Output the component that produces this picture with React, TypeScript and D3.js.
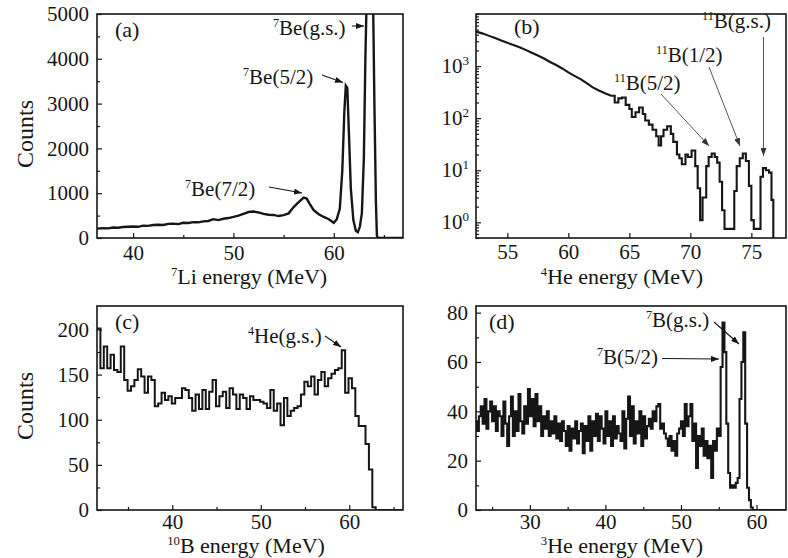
import React, { useEffect, useRef } from "react";
import * as d3 from "d3";

// ---------- Panel (a): 7Li spectrum (line) ----------
const aEnergy = [36.4, 37, 37.5, 38, 38.5, 39, 39.5, 40, 40.5, 41, 41.5, 42, 42.5, 43, 43.5, 44, 44.5, 45, 45.5, 46, 46.5, 47, 47.5, 48, 48.5, 49, 49.5, 50, 50.5, 51, 51.5, 52, 52.5, 53, 53.5, 54, 54.5, 55, 55.5, 56, 56.5, 57, 57.3, 57.6, 58, 58.5, 59, 59.5, 60, 60.3, 60.6, 60.85, 61.05, 61.2, 61.35, 61.5, 61.7, 61.95, 62.2, 62.4, 62.6, 62.8, 63.0, 63.15, 63.3, 63.9, 64.05, 64.2, 64.3, 64.4, 66.9];
const aCounts = [210, 220, 215, 235, 230, 245, 250, 255, 250, 275, 270, 290, 295, 290, 315, 320, 310, 340, 335, 355, 350, 370, 380, 420, 400, 430, 445, 470, 500, 540, 580, 590, 570, 540, 520, 515, 490, 510, 550, 690, 800, 900, 880, 760, 620, 530, 470, 420, 340, 420, 650, 1500, 2800, 3400, 3350, 2400, 1100, 400, 160, 130, 250, 550, 1800, 4000, 5600, 5600, 3000, 800, 50, 0, 0];
const aXTicks = [40, 50, 60];
const aXMinor = [45, 55, 65];
const aYTicks = [0, 1000, 2000, 3000, 4000, 5000];
const aYMinor = [500, 1500, 2500, 3500, 4500];

// ---------- Panel (b): 4He spectrum (log) ----------
const bEnergy = [52.43, 53, 53.5, 54, 54.5, 55, 55.5, 56, 56.5, 57, 57.5, 58, 58.5, 59, 59.5, 60, 60.5, 61, 61.5, 62, 62.5, 63, 63.5, 63.8, 64.1, 64.4, 64.7, 65.0, 65.2, 65.5, 65.8, 66.1, 66.3, 66.6, 66.9, 67.2, 67.4, 67.6, 67.8, 68.1, 68.4, 68.6, 68.9, 69.1, 69.3, 69.6, 69.8, 70.1, 70.4, 70.6, 70.8, 71.0, 71.3, 71.5, 71.75, 72.0, 72.2, 72.4, 72.6, 72.8, 73.6, 73.8, 74.05, 74.3, 74.55, 74.8, 75.0, 75.2, 75.75, 75.95, 76.2, 76.45, 76.65, 76.8];
const bCounts = [4600, 4200, 3800, 3450, 3100, 2800, 2550, 2300, 2050, 1800, 1600, 1400, 1200, 1050, 900, 760, 650, 560, 470, 390, 340, 300, 270, 200, 240, 250, 180, 150, 105, 130, 160, 120, 90, 75, 60, 45, 30, 45, 60, 70, 50, 35, 20, 17, 13, 20, 18, 24, 12, 4.5, 1.1, 3, 12, 18, 21, 18, 14, 6, 1.7, 0.75, 4, 12, 17, 21, 15, 5, 1.1, 0.75, 7.5, 11, 10, 9, 2.7, 0];
const bSmoothCount = 22; // first bins drawn as a continuous line
const bXTicks = [55, 60, 65, 70, 75];
const bYTicks = [1, 10, 100, 1000];
const bYExp = ["0", "1", "2", "3"];

// ---------- Panel (c): 10B spectrum (histogram) ----------
const cBinStart = 31.5;
const cBinWidth = 0.384;
const cCounts = [201, 157, 181, 157, 172, 155, 153, 181, 144, 132, 137, 144, 156, 148, 130, 148, 144, 115, 118, 130, 122, 126, 118, 124, 124, 135, 133, 124, 110, 128, 112, 133, 112, 131, 144, 115, 126, 131, 113, 135, 128, 112, 128, 124, 112, 126, 122, 122, 120, 118, 113, 133, 110, 118, 94, 124, 104, 110, 113, 115, 128, 142, 137, 148, 128, 144, 153, 137, 146, 151, 155, 157, 177, 130, 146, 135, 104, 93, 93, 73, 45, 3];
const cXTicks = [40, 50, 60];
const cXMinor = [35, 45, 55, 65];
const cYTicks = [0, 50, 100, 150, 200];
const cYMinor = [25, 75, 125, 175];

// ---------- Panel (d): 3He spectrum (histogram) ----------
const dBinStart = 22.75;
const dBinWidth = 0.25;
const dCounts = [36,
  32, 38, 42, 35, 45, 33, 40, 44, 36, 42, 32, 40, 38, 30, 44, 35,
  26, 38, 46, 30, 40, 32, 47, 36, 31, 42, 35, 49, 38, 45, 34, 47,
  36, 42, 30, 38, 33, 40, 30, 36, 31, 38, 29, 35, 28, 36, 32, 26,
  34, 24, 33, 29, 36, 27, 32, 35, 23, 34, 28, 38, 24, 36, 30, 39,
  28, 38, 33, 27, 40, 30, 36, 26, 38, 29, 34, 31, 28, 40, 25, 37,
  46, 30, 42, 27, 36, 31, 40, 26, 38, 29, 34, 37, 33, 40, 36, 42,
  43, 33, 35, 31, 29, 26, 30, 24, 28, 22, 31, 33, 36, 30, 43, 34,
  38, 43, 28, 35, 17, 30, 26, 33, 22, 28, 21, 26, 13, 28, 24, 33,
  30, 58, 76, 64, 35, 15, 9, 10, 9, 11, 13, 45, 60, 72, 35, 9, 4, 1];
const dXTicks = [30, 40, 50, 60];
const dXMinor = [25, 35, 45, 55];
const dYTicks = [0, 20, 40, 60, 80];
const dYMinor = [10, 30, 50, 70];

const W = 788;
const H = 558;
const FONT = "'Liberation Serif','Times New Roman',Times,serif";
const INK = "#161616";
const TICK_FS = 21;
const ANN_FS = 21;
const TITLE_FS = 22;

type Sel = d3.Selection<any, any, any, any>;

function supText(g: Sel, x: number, y: number, sup: string, main: string, size: number, anchor = "start") {
  const t = g.append("text").attr("x", x).attr("y", y).attr("font-family", FONT)
    .attr("font-size", size).attr("fill", INK).attr("text-anchor", anchor);
  if (sup) t.append("tspan").attr("font-size", size * 0.58).attr("dy", -size * 0.36).text(sup);
  t.append("tspan").attr("dy", sup ? size * 0.36 : 0).text(main);
  return t;
}

function arrow(g: Sel, x1: number, y1: number, x2: number, y2: number, gray = false) {
  g.append("line").attr("x1", x1).attr("y1", y1).attr("x2", x2).attr("y2", y2)
    .attr("stroke", gray ? "#555" : INK).attr("stroke-width", gray ? 1 : 1.1)
    .attr("marker-end", gray ? "url(#arrGray)" : "url(#arrInk)");
}

function styleAxis(ax: Sel) {
  ax.select(".domain").remove();
  ax.selectAll("line").attr("stroke", INK).attr("stroke-width", 1.2);
  ax.selectAll("text").attr("font-family", FONT).attr("font-size", TICK_FS).attr("fill", INK);
}

function xAxes(g: Sel, x: any, B: number, major: number[], minor: number[], pad: number) {
  styleAxis(g.append("g").attr("transform", `translate(0,${B})`)
    .call(d3.axisBottom(x).tickValues(major).tickSize(-5).tickPadding(pad).tickFormat(d3.format("d")) as any));
  if (minor.length)
    styleAxis(g.append("g").attr("transform", `translate(0,${B})`)
      .call(d3.axisBottom(x).tickValues(minor).tickSize(-3).tickFormat(() => "") as any));
}

function yAxes(g: Sel, y: any, L: number, major: number[], minor: number[], fmt: any) {
  styleAxis(g.append("g").attr("transform", `translate(${L},0)`)
    .call(d3.axisLeft(y).tickValues(major).tickSize(-5).tickPadding(8).tickFormat(fmt) as any));
  if (minor.length)
    styleAxis(g.append("g").attr("transform", `translate(${L},0)`)
      .call(d3.axisLeft(y).tickValues(minor).tickSize(-3).tickFormat(() => "") as any));
}

function frame(g: Sel, L: number, T: number, R: number, B: number) {
  g.append("rect").attr("x", L).attr("y", T).attr("width", R - L).attr("height", B - T)
    .attr("fill", "none").attr("stroke", INK).attr("stroke-width", 1.6);
}

function clip(svg: Sel, id: string, L: number, T: number, R: number, B: number) {
  svg.select("defs").append("clipPath").attr("id", id).append("rect")
    .attr("x", L).attr("y", T).attr("width", R - L).attr("height", B - T);
}

function histPoints(start: number, width: number, counts: number[], xMax: number): [number, number][] {
  const pts: [number, number][] = counts.map((c, i) => [start + i * width, c]);
  pts.push([start + counts.length * width, 0]);
  pts.push([xMax, 0]);
  return pts;
}

function draw(svg: Sel) {
  const defs = svg.append("defs");
  defs.append("marker").attr("id", "arrInk").attr("viewBox", "0 0 8 6").attr("refX", 8).attr("refY", 3)
    .attr("markerWidth", 8).attr("markerHeight", 6).attr("markerUnits", "userSpaceOnUse").attr("orient", "auto")
    .append("path").attr("d", "M0,0L8,3L0,6Z").attr("fill", INK);
  defs.append("marker").attr("id", "arrGray").attr("viewBox", "0 0 8 6").attr("refX", 8).attr("refY", 3)
    .attr("markerWidth", 8).attr("markerHeight", 6).attr("markerUnits", "userSpaceOnUse").attr("orient", "auto")
    .append("path").attr("d", "M0,0L8,3L0,6Z").attr("fill", "#333");

  const lineStyle = (p: Sel, w = 2) => p.attr("fill", "none").attr("stroke", INK).attr("stroke-width", w)
    .attr("stroke-linejoin", "miter");

  // ----- (a) -----
  {
    const L = 97, T = 14, R = 403, B = 238;
    const g = svg.append("g");
    const x = d3.scaleLinear().domain([36.4, 66.9]).range([L, R]);
    const y = d3.scaleLinear().domain([0, 5000]).range([B, T]);
    clip(svg, "clipA", L, T, R, B);
    const pts = aEnergy.map((e, i) => [e, aCounts[i]] as [number, number]);
    g.append("path").attr("clip-path", "url(#clipA)")
      .attr("d", d3.line().x(d => x(d[0])).y(d => y(d[1]))(pts) as string).call(lineStyle, 2.4);
    xAxes(g, x, B, aXTicks, aXMinor, 7);
    yAxes(g, y, L, aYTicks, aYMinor, d3.format("d"));
    frame(g, L, T, R, B);
    supText(g, 115, 37, "", "(a)", 22);
    supText(g, 273, 35, "7", "Be(g.s.)", ANN_FS);
    arrow(g, 352, 26, 364, 26);
    supText(g, 243, 84, "7", "Be(5/2)", ANN_FS);
    arrow(g, 322, 75, 343, 82.5);
    supText(g, 185, 196, "7", "Be(7/2)", ANN_FS);
    arrow(g, 269, 187, 302, 193);
    g.append("text").attr("transform", "translate(33,134) rotate(-90)").attr("text-anchor", "middle")
      .attr("font-family", FONT).attr("font-size", 24).attr("fill", INK).text("Counts");
    supText(g, 249, 284, "7", "Li energy (MeV)", TITLE_FS, "middle");
  }

  // ----- (b) -----
  {
    const L = 476, T = 14, R = 786, B = 238;
    const g = svg.append("g");
    const x = d3.scaleLinear().domain([52.43, 77.84]).range([L, R]);
    const y = d3.scaleLog().domain([0.5, 10000]).range([B, T]);
    const yv = (v: number) => (v > 0 ? y(v) : B + 4);
    clip(svg, "clipB", L, T, R, B);
    const pts: [number, number][] = [];
    bEnergy.forEach((e, i) => {
      if (i > bSmoothCount) pts.push([e, bCounts[i - 1]]);
      pts.push([e, bCounts[i]]);
    });
    pts.push([77.84, 0]);
    g.append("path").attr("clip-path", "url(#clipB)")
      .attr("d", d3.line().x(d => x(d[0])).y(d => yv(d[1]))(pts) as string).call(lineStyle, 2.1);
    xAxes(g, x, B, bXTicks, [], 6);
    const minor = y.ticks().filter(v => bYTicks.indexOf(v) < 0 && v >= 0.5 && v <= 10000);
    yAxes(g, y, L, bYTicks, minor, () => "");
    bYTicks.forEach((v, i) => {
      const t = g.append("text").attr("x", L - 7).attr("y", y(v) + 7).attr("text-anchor", "end")
        .attr("font-family", FONT).attr("font-size", TICK_FS).attr("fill", INK);
      t.append("tspan").text("10");
      t.append("tspan").attr("font-size", 13).attr("dy", -8).text(bYExp[i]);
    });
    frame(g, L, T, R, B);
    supText(g, 514, 34, "", "(b)", 22);
    supText(g, 702, 28, "11", "B(g.s.)", ANN_FS);
    supText(g, 656, 62, "11", "B(1/2)", ANN_FS);
    supText(g, 614, 90, "11", "B(5/2)", ANN_FS);
    arrow(g, 661, 94, 709, 146, true);
    arrow(g, 709, 67, 740, 146, true);
    arrow(g, 763.5, 37, 763.5, 156, true);
    supText(g, 622, 284, "4", "He energy (MeV)", TITLE_FS, "middle");
  }

  // ----- (c) -----
  {
    const L = 97, T = 306, R = 403, B = 510;
    const g = svg.append("g");
    const x = d3.scaleLinear().domain([31.5, 66.07]).range([L, R]);
    const y = d3.scaleLinear().domain([0, 226]).range([B, T]);
    clip(svg, "clipC", L, T, R, B);
    const pts = histPoints(cBinStart, cBinWidth, cCounts, 66.07);
    g.append("path").attr("clip-path", "url(#clipC)")
      .attr("d", d3.line().x(d => x(d[0])).y(d => y(d[1])).curve(d3.curveStepAfter)(pts) as string).call(lineStyle, 2);
    xAxes(g, x, B, cXTicks, cXMinor, 4);
    yAxes(g, y, L, cYTicks, cYMinor, d3.format("d"));
    frame(g, L, T, R, B);
    supText(g, 115, 329, "", "(c)", 22);
    supText(g, 248, 343, "4", "He(g.s.)", ANN_FS);
    arrow(g, 325, 336, 341, 347);
    g.append("text").attr("transform", "translate(33,406) rotate(-90)").attr("text-anchor", "middle")
      .attr("font-family", FONT).attr("font-size", 24).attr("fill", INK).text("Counts");
    supText(g, 246, 553, "10", "B energy (MeV)", TITLE_FS, "middle");
  }

  // ----- (d) -----
  {
    const L = 476, T = 306, R = 786, B = 510;
    const g = svg.append("g");
    const x = d3.scaleLinear().domain([22.87, 63.9]).range([L, R]);
    const y = d3.scaleLinear().domain([0, 82.7]).range([B, T]);
    clip(svg, "clipD", L, T, R, B);
    const pts = histPoints(dBinStart, dBinWidth, dCounts, 63.9);
    g.append("path").attr("clip-path", "url(#clipD)")
      .attr("d", d3.line().x(d => x(d[0])).y(d => y(d[1])).curve(d3.curveStepAfter)(pts) as string).call(lineStyle, 2.1);
    xAxes(g, x, B, dXTicks, dXMinor, 4);
    yAxes(g, y, L, dYTicks, dYMinor, d3.format("d"));
    frame(g, L, T, R, B);
    supText(g, 489, 329, "", "(d)", 22);
    supText(g, 646, 327, "7", "B(g.s.)", ANN_FS);
    arrow(g, 714, 322, 739, 344);
    supText(g, 597, 364, "7", "B(5/2)", ANN_FS);
    arrow(g, 662, 358.5, 719, 359);
    supText(g, 622, 553, "3", "He energy (MeV)", TITLE_FS, "middle");
  }
}

export default function App() {
  const ref = useRef<SVGSVGElement>(null);
  useEffect(() => {
    if (!ref.current) return;
    const svg = d3.select(ref.current);
    svg.selectAll("*").remove();
    draw(svg as any);
  }, []);
  return (
    <svg ref={ref} width={W} height={H}
      style={{ position: "absolute", left: 0, top: 0, background: "#fff", display: "block" }} />
  );
}
